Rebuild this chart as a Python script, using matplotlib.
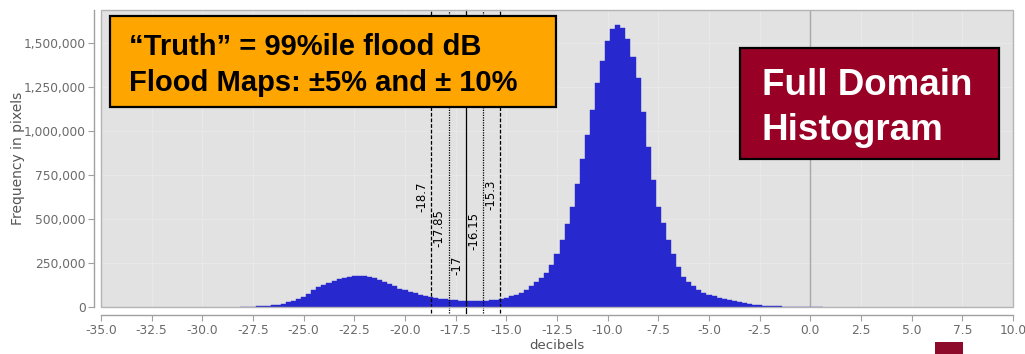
import matplotlib
matplotlib.use("Agg")
import matplotlib.pyplot as plt
from matplotlib.patches import Rectangle

# ---------------- data ----------------
bin_centers = [
    -28.0, -27.75, -27.5, -27.25, -27.0, -26.75, -26.5, -26.25, -26.0, -25.75,
    -25.5, -25.25, -25.0, -24.75, -24.5, -24.25, -24.0, -23.75, -23.5, -23.25,
    -23.0, -22.75, -22.5, -22.25, -22.0, -21.75, -21.5, -21.25, -21.0, -20.75,
    -20.5, -20.25, -20.0, -19.75, -19.5, -19.25, -19.0, -18.75, -18.5, -18.25,
    -18.0, -17.75, -17.5, -17.25, -17.0, -16.75, -16.5, -16.25, -16.0, -15.75,
    -15.5, -15.25, -15.0, -14.75, -14.5, -14.25, -14.0, -13.75, -13.5, -13.25,
    -13.0, -12.75, -12.5, -12.25, -12.0, -11.75, -11.5, -11.25, -11.0, -10.75,
    -10.5, -10.25, -10.0, -9.75, -9.5, -9.25, -9.0, -8.75, -8.5, -8.25,
    -8.0, -7.75, -7.5, -7.25, -7.0, -6.75, -6.5, -6.25, -6.0, -5.75,
    -5.5, -5.25, -5.0, -4.75, -4.5, -4.25, -4.0, -3.75, -3.5, -3.25,
    -3.0, -2.75, -2.5, -2.25, -2.0, -1.75, -1.5, -1.25, -1.0, -0.75,
    -0.5, -0.25, 0.0, 0.25, 0.5,
]
frequency = [
    0, 1000, 2000, 3000, 5000, 7000, 10000, 14000, 19000, 26000,
    35000, 46000, 59000, 75000, 95000, 112000, 125000, 136000, 148000, 158000,
    166000, 172000, 176000, 178000, 177000, 173000, 165000, 152000, 140000, 128000,
    117000, 105000, 95000, 86000, 78000, 70000, 64000, 58000, 53000, 48000,
    44000, 41000, 38000, 36000, 35000, 34000, 34000, 35000, 36000, 38000,
    41000, 45000, 52000, 60000, 70000, 82000, 98000, 118000, 140000, 162000,
    195000, 240000, 300000, 380000, 470000, 570000, 700000, 840000, 980000, 1120000,
    1270000, 1400000, 1510000, 1580000, 1605000, 1585000, 1520000, 1420000, 1300000, 1110000,
    910000, 720000, 570000, 480000, 380000, 300000, 230000, 170000, 140000, 118000,
    98000, 82000, 70000, 60000, 52000, 45000, 39000, 33000, 28000, 23000,
    18000, 14000, 11000, 8000, 6000, 4000, 3000, 2000, 1500, 1000,
    800, 600, 400, 300, 200,
]

threshold_values = [-18.7, -17.85, -17.0, -16.15, -15.3]
threshold_labels = ["-18.7", "-17.85", "-17", "-16.15", "-15.3"]

x_ticks = [-35.0, -32.5, -30.0, -27.5, -25.0, -22.5, -20.0, -17.5, -15.0, -12.5,
           -10.0, -7.5, -5.0, -2.5, 0.0, 2.5, 5.0, 7.5, 10.0]
x_tick_labels = ["-35.0", "-32.5", "-30.0", "-27.5", "-25.0", "-22.5", "-20.0",
                 "-17.5", "-15.0", "-12.5", "-10.0", "-7.5", "-5.0", "-2.5",
                 "0.0", "2.5", "5.0", "7.5", "10.0"]
y_ticks = [0, 250000, 500000, 750000, 1000000, 1250000, 1500000]
y_tick_labels = ["0", "250,000", "500,000", "750,000", "1,000,000",
                 "1,250,000", "1,500,000"]

box1_lines = ["\u201cTruth\u201d = 99%ile flood dB", "Flood Maps: \u00b15% and \u00b1 10%"]
box2_lines = ["Full Domain", "Histogram"]

# ---------------- styles / layout ----------------
W, H = 1025, 354
line_styles = [(0, (3, 1.5)), (0, (1, 1)), "-", (0, (1, 1)), (0, (3, 1.5))]
label_bottom_y = [540000, 341000, 182000, 324000, 551000]
tick_color = "#6a6a6a"
axis_color = "#a0a0a0"
bar_color = "#2828cf"

fig = plt.figure(figsize=(W / 100, H / 100), dpi=100)
fig.patch.set_facecolor("white")
ax = fig.add_axes([101 / W, 1 - 307 / H, (1013 - 101) / W, (307 - 10) / H])
ax.set_facecolor("#e2e2e2")

ax.set_xlim(-35, 10)
ax.set_ylim(0, 1687500)

# faint grid
for xt in x_ticks:
    ax.axvline(xt, color="#e8e8e8", lw=0.8, zorder=0.5)
for yt in y_ticks:
    ax.axhline(yt, color="#e8e8e8", lw=0.8, zorder=0.5)

ax.bar(bin_centers, frequency, width=0.25, color=bar_color,
       edgecolor=bar_color, linewidth=0.3, zorder=2)

# zero domain line
ax.axvline(0, color="#a8a8a8", lw=1.0, zorder=1)

# threshold lines and labels
for xv, lab, ls, yb in zip(threshold_values, threshold_labels, line_styles, label_bottom_y):
    ax.axvline(xv, ymin=-0.02, ymax=1, color="black", lw=0.9, ls=ls,
               zorder=3, clip_on=False)
    ax.annotate(lab, xy=(xv, yb), xytext=(-2, 0), textcoords="offset points",
                rotation=90, ha="right", va="bottom", fontsize=8.5,
                color="black", zorder=4)

# spines
for s in ["top", "right"]:
    ax.spines[s].set_visible(False)
ax.spines["left"].set_position(("outward", 5))
ax.spines["bottom"].set_position(("outward", 6))
for s in ["left", "bottom"]:
    ax.spines[s].set_color(axis_color)
    ax.spines[s].set_linewidth(1.0)
ax.add_patch(Rectangle((0, 0), 1, 1, transform=ax.transAxes, fill=False,
                       edgecolor="#b4b4b4", lw=1.0, clip_on=False, zorder=5))

ax.set_xticks(x_ticks)
ax.set_xticklabels(x_tick_labels)
ax.set_yticks(y_ticks)
ax.set_yticklabels(y_tick_labels)
ax.tick_params(axis="both", colors=axis_color, labelcolor=tick_color,
               labelsize=8.8, length=4, width=0.8, direction="out", pad=2)

ax.set_xlabel("decibels", fontsize=9.5, color="#555555")
ax.set_ylabel("Frequency in pixels", fontsize=10, color="#555555")
ax.xaxis.set_label_coords(0.5, -0.108)
ax.yaxis.set_label_coords(-0.083, 0.5)

# orange annotation box
fig.add_artist(Rectangle((110 / W, 1 - 107 / H), (556 - 110) / W, (107 - 16) / H,
                         transform=fig.transFigure, facecolor="#ffa500",
                         edgecolor="black", lw=1.6, zorder=10))
for line, yb in zip(box1_lines, [55, 91]):
    fig.text(129 / W, 1 - yb / H, line, fontsize=21, fontweight="bold",
             family="Liberation Sans", color="black", ha="left", va="baseline",
             zorder=11)

# red annotation box
fig.add_artist(Rectangle((740 / W, 1 - 159 / H), (999 - 740) / W, (159 - 48) / H,
                         transform=fig.transFigure, facecolor="#990026",
                         edgecolor="black", lw=1.6, zorder=10))
for line, yb in zip(box2_lines, [95, 140]):
    fig.text(762 / W, 1 - yb / H, line, fontsize=26.5, fontweight="bold",
             family="Liberation Sans", color="white", ha="left", va="baseline",
             zorder=11)

# small slide decoration square
fig.add_artist(Rectangle((935 / W, 0), 28 / W, 12 / H, transform=fig.transFigure,
                         facecolor="#8e0a2b", edgecolor="none", zorder=10))

fig.savefig("out.png", dpi=100)
